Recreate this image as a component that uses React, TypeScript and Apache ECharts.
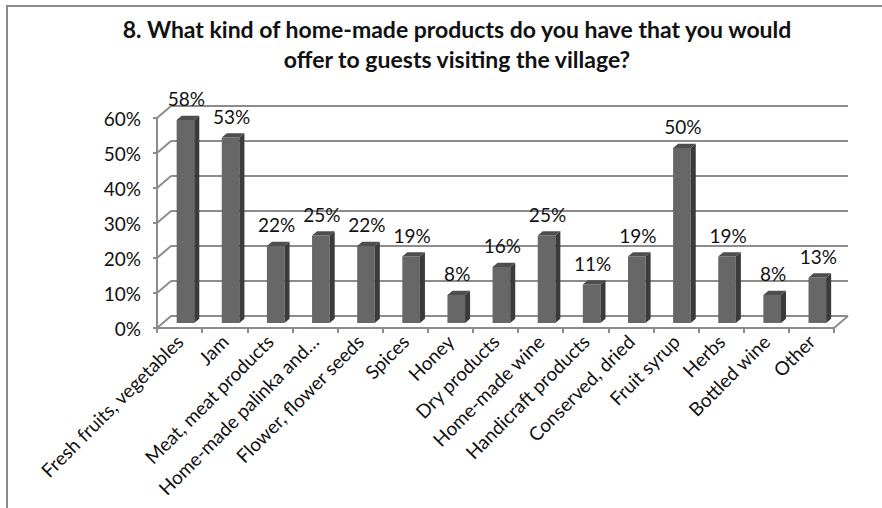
import React, { useEffect, useRef } from "react";
import * as echarts from "echarts";

const categories = [
  "Fresh fruits, vegetables",
  "Jam",
  "Meat, meat products",
  "Home-made palinka and…",
  "Flower, flower seeds",
  "Spices",
  "Honey",
  "Dry products",
  "Home-made wine",
  "Handicraft products",
  "Conserved, dried",
  "Fruit syrup",
  "Herbs",
  "Bottled wine",
  "Other",
];
const values = [58, 53, 22, 25, 22, 19, 8, 16, 25, 11, 19, 50, 19, 8, 13];
const yTicks = [0, 10, 20, 30, 40, 50, 60];
const titleText =
  "8. What kind of home-made products do you have that you would\noffer to guests visiting the village?";

const FONT = "Lato, 'Open Sans', sans-serif";
const DX = 14;
const DY = 12;
const GRID_COLOR = "#8c8c8c";

export default function App() {
  const ref = useRef<HTMLDivElement>(null);
  useEffect(() => {
    if (!ref.current) return;
    const chart = echarts.init(ref.current, null, { renderer: "svg" });
    const option: any = {
      animation: false,
      backgroundColor: "#ffffff",
      title: {
        text: titleText,
        left: 452,
        top: 9,
        textAlign: "center",
        textStyle: {
          fontFamily: FONT,
          fontSize: 23,
          fontWeight: "bold",
          color: "#111",
          lineHeight: 30,
        },
      },
      graphic: [
        {
          type: "rect",
          shape: { x: 7, y: 6, width: 1000, height: 1000 },
          style: { fill: "none", stroke: "#8a8a8a", lineWidth: 2 },
          silent: true,
        },
      ],
      grid: [
        { left: 157, top: 118, width: 677, height: 210 },
        { left: 157 + DX, top: 118 - DY, width: 677, height: 210 },
      ],
      xAxis: [
        {
          type: "category",
          gridIndex: 0,
          data: categories,
          axisLine: { show: true, lineStyle: { color: GRID_COLOR, width: 2 } },
          axisTick: { show: true, length: 5, lineStyle: { color: GRID_COLOR, width: 2 } },
          axisLabel: {
            interval: 0,
            rotate: 45,
            fontFamily: FONT,
            fontSize: 19,
            color: "#111",
            margin: 10,
          },
          splitLine: { show: false },
        },
        {
          type: "category",
          gridIndex: 1,
          data: categories,
          show: false,
        },
      ],
      yAxis: [
        {
          type: "value",
          gridIndex: 0,
          min: 0,
          max: 60,
          interval: 10,
          axisLine: { show: true, lineStyle: { color: GRID_COLOR, width: 2 } },
          axisTick: { show: true, length: 4, lineStyle: { color: GRID_COLOR, width: 2 } },
          axisLabel: {
            formatter: "{value}%",
            fontFamily: FONT,
            fontSize: 19,
            color: "#111",
            margin: 16,
          },
          splitLine: { show: false },
        },
        {
          type: "value",
          gridIndex: 1,
          min: 0,
          max: 60,
          interval: 10,
          axisLine: { show: false },
          axisTick: { show: false },
          axisLabel: { show: false },
          splitLine: { show: true, lineStyle: { color: GRID_COLOR, width: 2 } },
        },
      ],
      series: [
        {
          type: "custom",
          xAxisIndex: 0,
          yAxisIndex: 0,
          silent: true,
          data: yTicks.map((v) => [0, v]),
          renderItem: (params: any, api: any) => {
            const v = api.value(1);
            const y = api.coord([0, v])[1];
            const cs = params.coordSys;
            const style = { stroke: GRID_COLOR, lineWidth: 2 };
            const children: any[] = [
              {
                type: "line",
                shape: { x1: cs.x, y1: y, x2: cs.x + DX, y2: y - DY },
                style,
              },
            ];
            if (v === 0) {
              children.push({
                type: "line",
                shape: { x1: cs.x + cs.width, y1: y, x2: cs.x + cs.width + DX, y2: y - DY },
                style,
              });
            }
            return { type: "group", children };
          },
        },
        {
          type: "custom",
          xAxisIndex: 0,
          yAxisIndex: 0,
          data: values.map((v, i) => [i, v]),
          renderItem: (params: any, api: any) => {
            const i = api.value(0);
            const v = api.value(1);
            const base = api.coord([i, 0]);
            const top = api.coord([i, v]);
            const bw = api.size([1, 0])[0] * 0.39;
            const f = 0.42;
            const g = 0.78;
            const fx = base[0] - bw / 2 + f * DX;
            const fy0 = base[1] - f * DY;
            const fy1 = top[1] - f * DY;
            const sx = (g - f) * DX;
            const sy = (g - f) * DY;
            return {
              type: "group",
              children: [
                {
                  type: "rect",
                  shape: { x: fx, y: fy1, width: bw, height: fy0 - fy1 },
                  style: { fill: "#676767" },
                },
                {
                  type: "polygon",
                  shape: {
                    points: [
                      [fx + bw, fy1],
                      [fx + bw + sx, fy1 - sy],
                      [fx + bw + sx, fy0 - sy],
                      [fx + bw, fy0],
                    ],
                  },
                  style: { fill: "#3b3b3b" },
                },
                {
                  type: "polygon",
                  shape: {
                    points: [
                      [fx, fy1],
                      [fx + sx, fy1 - sy],
                      [fx + bw + sx, fy1 - sy],
                      [fx + bw, fy1],
                    ],
                  },
                  style: { fill: "#4e4e4e" },
                },
                {
                  type: "text",
                  style: {
                    text: v + "%",
                    x: fx + bw / 2 + 1,
                    y: fy1 - 21,
                    align: "center",
                    verticalAlign: "middle",
                    fontFamily: FONT,
                    fontSize: 19,
                    fill: "#111",
                  },
                },
              ],
            };
          },
        },
      ],
    };
    chart.setOption(option);
    return () => chart.dispose();
  }, []);
  return (
    <div
      ref={ref}
      style={{ position: "absolute", left: 0, top: 0, width: 882, height: 508, background: "#fff" }}
    />
  );
}
